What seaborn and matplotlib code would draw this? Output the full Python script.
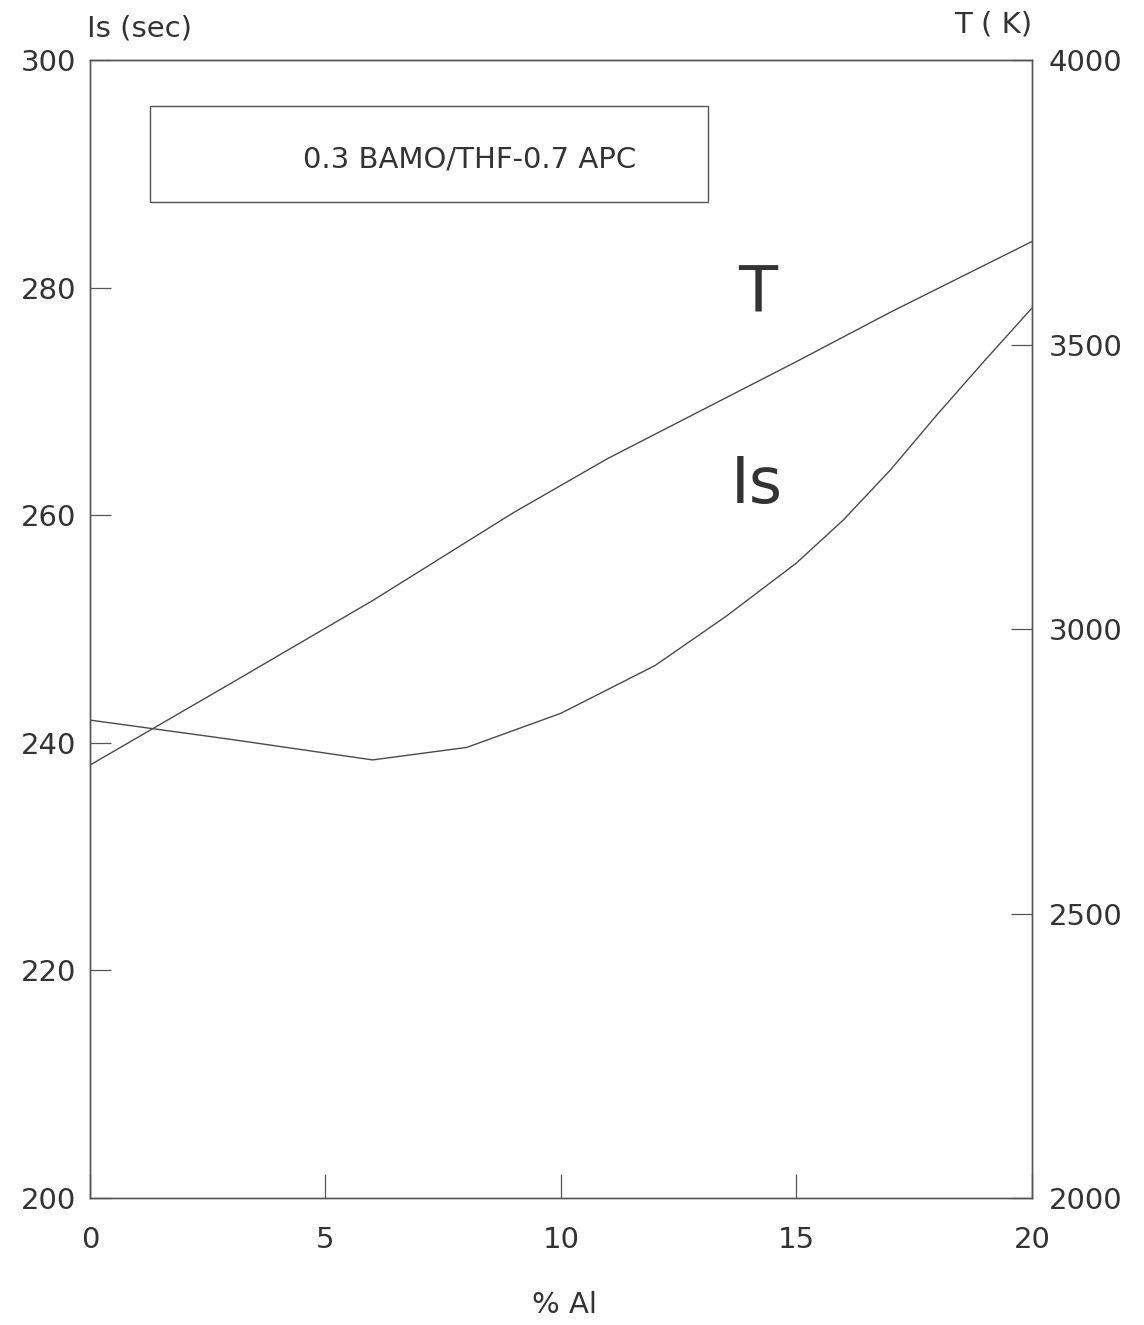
import numpy as np
import pandas as pd
import matplotlib
matplotlib.use('Agg')
import matplotlib.pyplot as plt
import seaborn as sns
from matplotlib.patches import Rectangle

# data
al_pct = [0, 3, 6, 8, 10, 12, 13.5, 15, 16, 17, 18, 19, 20]
isp = [242.0, 240.3, 238.5, 239.6, 242.6, 246.8, 251.1, 255.8, 259.6, 264.0, 268.9, 273.6, 278.2]

al_pct_t = [0, 3, 6, 9, 11, 13, 15, 17, 20]
temp = [2761, 2905, 3050, 3205, 3300, 3385, 3470, 3557, 3681]

x_ticks = [0, 5, 10, 15, 20]
is_ticks = [200, 220, 240, 260, 280, 300]
t_ticks = [2000, 2500, 3000, 3500, 4000]

sns.set_style('ticks')
plt.rcParams['font.family'] = ['DejaVu Sans']

fig = plt.figure(figsize=(11.44, 13.25), dpi=100)
ax = fig.add_axes([0.0787, 0.0958, 0.8233, 0.8589])
ax2 = ax.twinx()

line_col = '#4a4a4a'
df_is = pd.DataFrame({'al': al_pct, 'Is': isp})
df_t = pd.DataFrame({'al': al_pct_t, 'T': temp})
sns.lineplot(data=df_is, x='al', y='Is', ax=ax, color=line_col, lw=1.0)
sns.lineplot(data=df_t, x='al', y='T', ax=ax2, color=line_col, lw=1.0)

ax.set_xlim(0, 20)
ax.set_ylim(200, 300)
ax2.set_ylim(2000, 4000)
ax.set_xticks(x_ticks)
ax.set_yticks(is_ticks)
ax2.set_yticks(t_ticks)

lab_col = '#333333'
ax.set_xticklabels([str(v) for v in x_ticks], fontsize=21, color=lab_col)
ax.set_yticklabels([str(v) for v in is_ticks], fontsize=21, color=lab_col)
ax2.set_yticklabels([str(v) for v in t_ticks], fontsize=21, color=lab_col)

ax.tick_params(axis='x', direction='in', length=17, width=0.9, color='#555', pad=20)
ax.tick_params(axis='y', direction='in', length=15, width=0.9, color='#555', pad=10)
ax2.tick_params(axis='y', direction='in', length=15, width=0.9, color='#555', pad=12)

for a in (ax, ax2):
    for s in a.spines.values():
        s.set_color('#555')
        s.set_linewidth(1.0)
    a.set_xlabel('')
    a.set_ylabel('')

fig.text(565 / 1144, 1 - 1305 / 1325, '% Al', fontsize=21, color=lab_col, ha='center', va='center')
fig.text(87 / 1144, 1 - 28 / 1325, 'Is (sec)', fontsize=21, color=lab_col, ha='left', va='center')
fig.text(1032 / 1144, 1 - 25 / 1325, 'T ( K)', fontsize=21, color=lab_col, ha='right', va='center')

# caption box
ax.add_patch(Rectangle((1.27, 287.5), 11.85, 8.5, fill=False, ec='#555', lw=1.0))
ax.text(8.05, 291.3, '0.3 BAMO/THF-0.7 APC', fontsize=21, color=lab_col, ha='center', va='center')

ax.text(14.18, 279.4, 'T', fontsize=46, color='#333', ha='center', va='center')
ax.text(14.16, 262.7, 'Is', fontsize=46, color='#333', ha='center', va='center')

plt.savefig('out.png', dpi=100)
plt.close()
